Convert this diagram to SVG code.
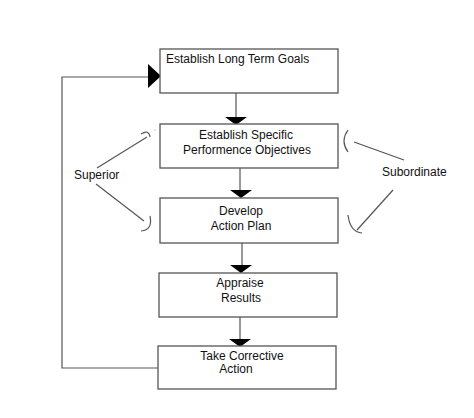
<svg xmlns="http://www.w3.org/2000/svg" width="474" height="418" viewBox="0 0 474 418">
<style>
.box{fill:#fff;stroke:#555;stroke-width:1.3}
.t{font-family:"Liberation Sans",Arial,sans-serif;font-size:12px;fill:#111}
.c{text-anchor:middle}
.ln{fill:none;stroke:#555;stroke-width:1.2}
.hd{fill:#000}
</style>
<rect width="474" height="418" fill="#fff"/>
<g id="connectors">
<path class="ln" d="M236,93 V118"/>
<polygon class="hd" points="225,117 247,117 236,125"/>
<path class="ln" d="M240,168 V191"/>
<polygon class="hd" points="230,190 252,190 241,198"/>
<path class="ln" d="M242,243 V266"/>
<polygon class="hd" points="230,265 252,265 241,273"/>
<path class="ln" d="M240,317 V340"/>
<polygon class="hd" points="229,339 251,339 240,347"/>
<path class="ln" d="M158,368 H62 V77 H150"/>
<polygon class="hd" points="148,64 161,76 148,88"/>
<path class="ln" d="M97,168 L147,137"/>
<path class="ln" d="M141,134 Q149,129 150,137"/>
<circle cx="155" cy="130" r="0.6" fill="#888"/>
<path class="ln" d="M96,184 L144,221"/>
<path class="ln" d="M150,216 Q153,230 141,231"/>
<path class="ln" d="M348,130 Q340,141 348,152"/>
<path class="ln" d="M354,142 L404,160"/>
<path class="ln" d="M393,190 L357,230"/>
<path class="ln" d="M348,215 Q350,232 362,233"/>
</g>
<g id="n1"><rect class="box" x="160" y="49" width="178" height="44"/><text class="t" x="166" y="63">Establish Long Term Goals</text></g>
<g id="n2"><rect class="box" x="160" y="124" width="178" height="44"/><text class="t c" x="246" y="139">Establish Specific</text><text class="t c" x="247" y="154">Performence Objectives</text></g>
<g id="n3"><rect class="box" x="160" y="198" width="178" height="45"/><text class="t c" x="241" y="215">Develop</text><text class="t c" x="241" y="230">Action Plan</text></g>
<g id="n4"><rect class="box" x="159" y="273" width="178" height="44"/><text class="t c" x="240" y="287">Appraise</text><text class="t c" x="241" y="302">Results</text></g>
<g id="n5"><rect class="box" x="158" y="346" width="178" height="43"/><text class="t c" x="242" y="360">Take Corrective</text><text class="t c" x="236" y="373">Action</text></g>
<g id="superior"><text class="t" x="74" y="179">Superior</text></g>
<g id="subordinate"><text class="t" x="382" y="176">Subordinate</text></g>
</svg>
